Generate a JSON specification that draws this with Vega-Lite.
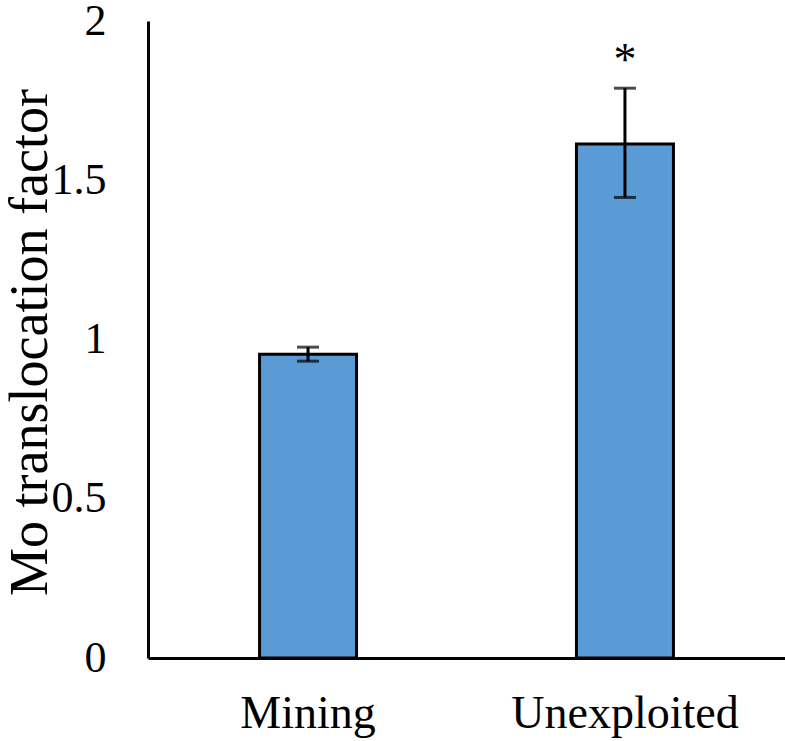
{
  "$schema": "https://vega.github.io/schema/vega-lite/v6.json",
  "autosize": "none",
  "padding": {"left": 148, "top": 21, "right": 0, "bottom": 83},
  "width": 637,
  "height": 637,
  "background": "white",
  "config": {
    "view": {"stroke": null},
    "font": "Liberation Serif"
  },
  "data": {
    "values": [
      {"site": "Mining", "value": 0.954, "lower": 0.932, "upper": 0.976, "sig": ""},
      {"site": "Unexploited", "value": 1.614, "lower": 1.446, "upper": 1.789, "sig": "*"}
    ]
  },
  "encoding": {
    "x": {
      "field": "site",
      "type": "nominal",
      "sort": null,
      "scale": {"paddingInner": 0.694, "paddingOuter": 0.352},
      "axis": {
        "title": null,
        "labelAngle": 0,
        "labelLimit": 0,
        "labelFont": "Liberation Serif",
        "labelFontSize": 46,
        "labelColor": "black",
        "labelPadding": 33,
        "ticks": false,
        "domainColor": "black",
        "domainWidth": 3
      }
    }
  },
  "layer": [
    {
      "mark": {"type": "bar", "color": "#5B9BD5", "stroke": "black", "strokeWidth": 3},
      "encoding": {
        "y": {
          "field": "value",
          "type": "quantitative",
          "scale": {"domain": [0, 2]},
          "axis": {
            "title": "Mo translocation factor",
            "titleFont": "Liberation Serif",
            "titleFontSize": 54,
            "titleFontWeight": "normal",
            "titleColor": "black",
            "titleAngle": -90,
            "titleAlign": "center",
            "titleBaseline": "alphabetic",
            "titleX": -102,
            "titleY": 321,
            "values": [0, 0.5, 1, 1.5, 2],
            "format": "~g",
            "labelFont": "Liberation Serif",
            "labelFontSize": 44,
            "labelColor": "black",
            "labelPadding": 42,
            "ticks": false,
            "grid": false,
            "domainColor": "black",
            "domainWidth": 3
          }
        }
      }
    },
    {
      "mark": {"type": "rule", "color": "black", "strokeWidth": 3},
      "encoding": {
        "y": {"field": "lower", "type": "quantitative"},
        "y2": {"field": "upper"}
      }
    },
    {
      "mark": {"type": "tick", "color": "black", "thickness": 3, "size": 22},
      "encoding": {
        "y": {"field": "upper", "type": "quantitative"}
      }
    },
    {
      "mark": {"type": "tick", "color": "black", "thickness": 3, "size": 22},
      "encoding": {
        "y": {"field": "lower", "type": "quantitative"}
      }
    },
    {
      "mark": {"type": "text", "font": "Liberation Serif", "fontSize": 46, "color": "black", "baseline": "alphabetic", "dy": -13},
      "encoding": {
        "y": {"field": "upper", "type": "quantitative"},
        "text": {"field": "sig"}
      }
    }
  ]
}
